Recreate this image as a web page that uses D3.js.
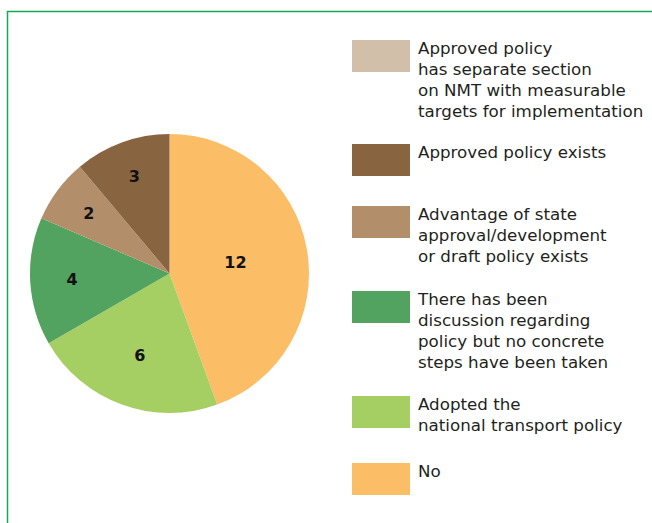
<!DOCTYPE html>
<html><head><meta charset="utf-8">
<script src="https://cdn.jsdelivr.net/npm/d3@7/dist/d3.min.js"></script>
<style>html,body{margin:0;padding:0;background:#fff;}svg{display:block;}</style>
</head><body>
<svg id="c" width="652" height="523"></svg>
<script>
const categories = [
  "Approved policy has separate section on NMT with measurable targets for implementation",
  "Approved policy exists",
  "Advantage of state approval/development or draft policy exists",
  "There has been discussion regarding policy but no concrete steps have been taken",
  "Adopted the national transport policy",
  "No"
];
const legendLines = [
  ["Approved policy", "has separate section", "on NMT with measurable", "targets for implementation"],
  ["Approved policy exists"],
  ["Advantage of state", "approval/development", "or draft policy exists"],
  ["There has been", "discussion regarding", "policy but no concrete", "steps have been taken"],
  ["Adopted the", "national transport policy"],
  ["No"]
];
const values = [0, 3, 2, 4, 6, 12];
const colors = ["#D1BFAA", "#886441", "#B38E6B", "#52A260", "#A6CF63", "#FBBE67"];
// pie drawing order (clockwise from 12 o'clock)
const pieOrder = [5, 4, 3, 2, 1, 0];
const labelRadiusFrac = [0.74, 0.74, 0.72, 0.70, 0.62, 0.48];

const svg = d3.select("#c");
// frame
svg.append("path").attr("d", "M7.5,523 L7.5,11.5 L652,11.5")
  .attr("fill", "none").attr("stroke", "#14A955").attr("stroke-width", 1.5);

const cx = 169.5, cy = 273.5, R = 139.5;
const pieData = pieOrder.map(i => ({i, v: values[i]}));
const pie = d3.pie().sort(null).value(d => d.v).startAngle(0).endAngle(2 * Math.PI);
const arcs = pie(pieData);
const arc = d3.arc().innerRadius(0).outerRadius(R);
const g = svg.append("g").attr("transform", `translate(${cx},${cy})`);
g.selectAll("path").data(arcs.filter(a => a.data.v > 0)).join("path")
  .attr("d", arc).attr("fill", d => colors[d.data.i]);
g.selectAll("text").data(arcs.filter(a => a.data.v > 0)).join("text")
  .attr("transform", d => {
    const r = R * labelRadiusFrac[d.data.i];
    return `translate(${d3.arc().innerRadius(r).outerRadius(r).centroid(d)})`;
  })
  .attr("text-anchor", "middle").attr("dy", "0.36em")
  .attr("font-family", "'DejaVu Sans', sans-serif").attr("font-weight", "bold")
  .attr("font-size", 16).attr("fill", "#111")
  .text(d => d.data.v);

// legend
const swatchTops = [40, 144, 206, 291, 396, 463];
const lg = svg.append("g");
categories.forEach((c, i) => {
  const y = swatchTops[i];
  lg.append("rect").attr("x", 352).attr("y", y).attr("width", 58).attr("height", 32)
    .attr("fill", colors[i]);
  const t = lg.append("text").attr("x", 418).attr("y", y + 14)
    .attr("font-family", "'DejaVu Sans', sans-serif").attr("font-size", 16.7)
    .attr("fill", "#231F20");
  legendLines[i].forEach((ln, k) => {
    t.append("tspan").attr("x", 418).attr("y", y + 14 + k * 21).text(ln);
  });
});
</script>
</body></html>
